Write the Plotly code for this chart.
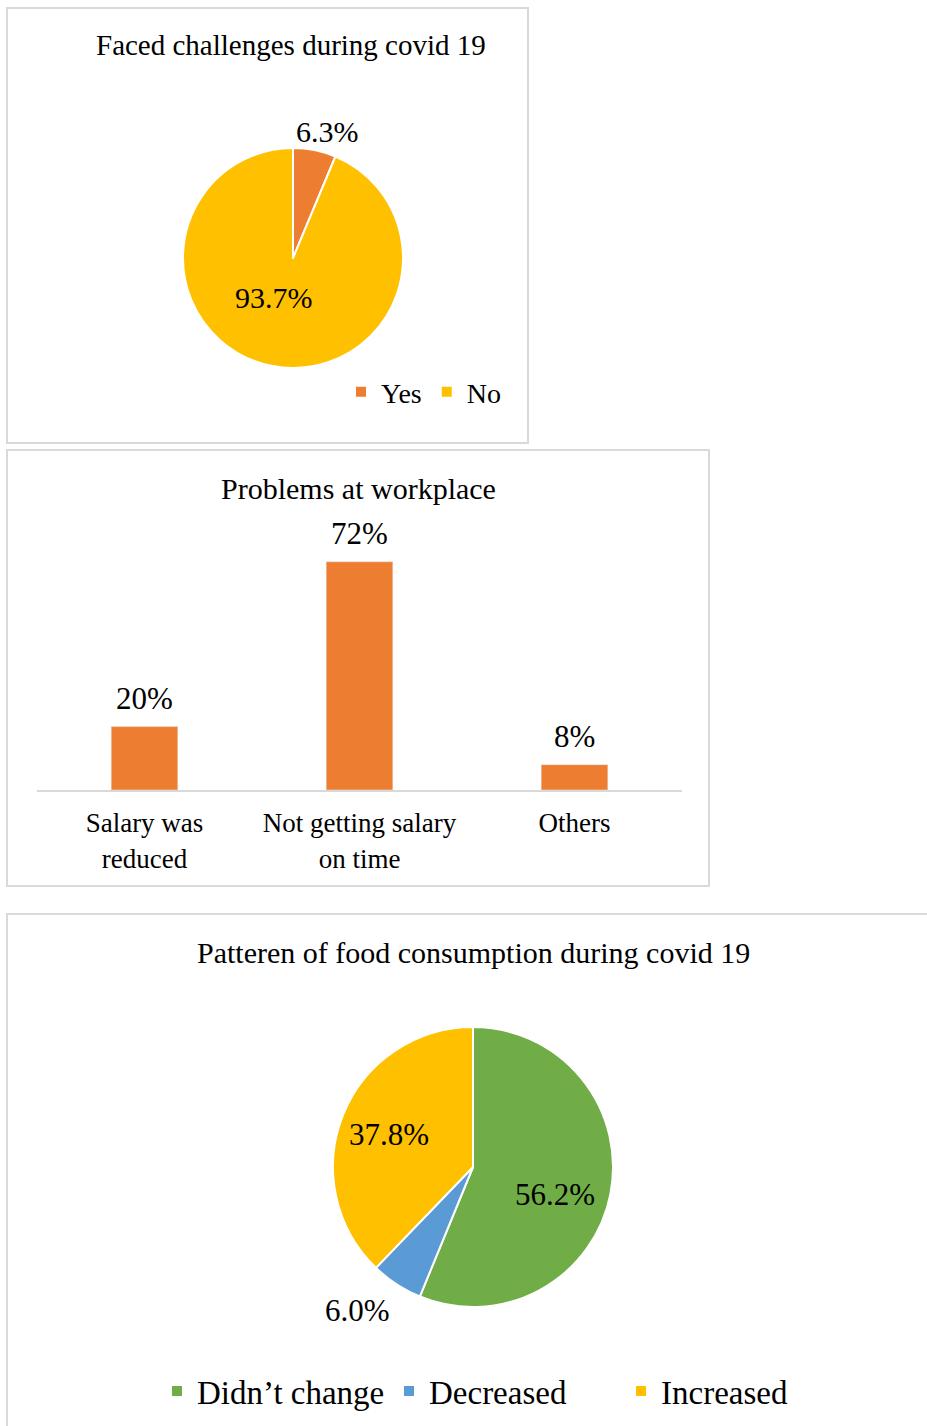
import plotly.graph_objects as go

# ---- data ----
challenge_labels = ["Yes", "No"]
challenge_values = [6.3, 93.7]

problem_categories = ["Salary was<br>reduced", "Not getting salary<br>on time", "Others"]
problem_values = [20, 72, 8]

food_labels = ["Didn\u2019t change", "Decreased", "Increased"]
food_values = [56.2, 6.0, 37.8]

# ---- styling ----
W, H = 927, 1426
FONT = "Liberation Serif"
ORANGE = "#ED7D31"
GOLD = "#FFC000"
GREEN = "#70AD47"
BLUE = "#5B9BD5"
BORDER = "#D9D9D9"


def px_x(x):
    return x / W


def px_y(y):
    return 1 - y / H


fig = go.Figure()

# Pie: faced challenges
fig.add_trace(go.Pie(
    labels=challenge_labels,
    values=challenge_values,
    sort=False,
    direction="clockwise",
    rotation=0,
    marker=dict(colors=[ORANGE, GOLD], line=dict(color="white", width=2)),
    textinfo="none",
    domain=dict(x=[px_x(183), px_x(403)], y=[px_y(368), px_y(148)]),
    legend="legend",
    hoverinfo="label+percent",
))

# Bar: problems at workplace
fig.add_trace(go.Bar(
    x=problem_categories,
    y=problem_values,
    marker=dict(color=ORANGE),
    showlegend=False,
    xaxis="x",
    yaxis="y",
))

# Pie: food consumption pattern
fig.add_trace(go.Pie(
    labels=food_labels,
    values=food_values,
    sort=False,
    direction="clockwise",
    rotation=0,
    marker=dict(colors=[GREEN, BLUE, GOLD], line=dict(color="white", width=2)),
    textinfo="none",
    domain=dict(x=[px_x(333), px_x(613)], y=[px_y(1307), px_y(1027)]),
    legend="legend2",
    hoverinfo="label+percent",
))

# panel frames
frames = [
    (7, 8, 528, 443),
    (7, 450, 709, 886),
    (7, 914, 940, 1440),
]
shapes = [
    dict(type="rect", xref="paper", yref="paper",
         x0=px_x(x0), x1=px_x(x1), y0=px_y(y1), y1=px_y(y0),
         line=dict(color=BORDER, width=2), fillcolor="rgba(0,0,0,0)", layer="below")
    for x0, y0, x1, y1 in frames
]

titles = [
    ("Faced challenges during covid 19", 291, 45, 29),
    ("Problems at workplace", 358, 488, 30),
    ("Patteren of food consumption during covid 19", 473, 952, 30),
]
annotations = [
    dict(text=t, x=px_x(x), y=px_y(y), xref="paper", yref="paper",
         xanchor="center", yanchor="middle", showarrow=False,
         font=dict(family=FONT, size=s, color="black"))
    for t, x, y, s in titles
]

# slice percentage labels
challenge_label_pos = [(327, 131), (274, 297)]
for v, (x, y) in zip(challenge_values, challenge_label_pos):
    annotations.append(dict(
        text=f"{v:.1f}%", x=px_x(x), y=px_y(y), xref="paper", yref="paper",
        xanchor="center", yanchor="middle", showarrow=False,
        font=dict(family=FONT, size=30, color="black")))

food_label_pos = [(555, 1194), (357, 1310), (389, 1134)]
for v, (x, y) in zip(food_values, food_label_pos):
    annotations.append(dict(
        text=f"{v:.1f}%", x=px_x(x), y=px_y(y), xref="paper", yref="paper",
        xanchor="center", yanchor="middle", showarrow=False,
        font=dict(family=FONT, size=31, color="black")))

# bar value labels
for c, v in zip(problem_categories, problem_values):
    annotations.append(dict(
        text=f"{v}%", x=c, y=v, xref="x", yref="y",
        xanchor="center", yanchor="bottom", yshift=9, showarrow=False,
        font=dict(family=FONT, size=31, color="black")))

fig.update_layout(
    width=W,
    height=H,
    margin=dict(l=0, r=0, t=0, b=0),
    paper_bgcolor="white",
    plot_bgcolor="white",
    font=dict(family=FONT, color="black"),
    bargap=0.69,
    xaxis=dict(
        domain=[px_x(37), px_x(682)],
        anchor="y",
        showline=True, linecolor=BORDER, linewidth=2,
        showgrid=False, zeroline=False, ticks="",
        tickfont=dict(family=FONT, size=27, color="black"),
        ticklabelstandoff=8,
        fixedrange=True,
    ),
    yaxis=dict(
        domain=[px_y(790), px_y(536.4)],
        anchor="x",
        range=[0, 80],
        visible=False,
        fixedrange=True,
    ),
    legend=dict(
        orientation="h",
        x=px_x(341), xanchor="left",
        y=px_y(392), yanchor="middle",
        font=dict(family=FONT, size=28, color="black"),
        bgcolor="rgba(0,0,0,0)",
        itemclick=False, itemdoubleclick=False,
    ),
    legend2=dict(
        orientation="h",
        x=px_x(157), xanchor="left",
        y=px_y(1391), yanchor="middle",
        font=dict(family=FONT, size=33, color="black"),
        entrywidth=187, entrywidthmode="pixels",
        bgcolor="rgba(0,0,0,0)",
        itemclick=False, itemdoubleclick=False,
    ),
    shapes=shapes,
    annotations=annotations,
)

fig.write_html("out.html")
